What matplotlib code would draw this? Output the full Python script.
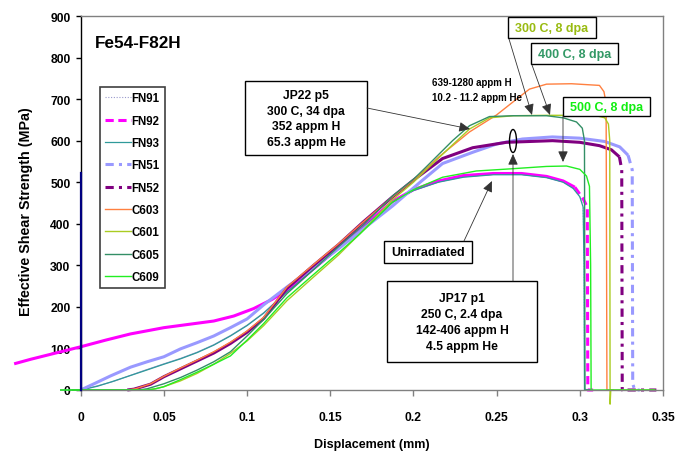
import numpy as np
import matplotlib
matplotlib.use('Agg')
import matplotlib.pyplot as plt
from matplotlib.patches import Rectangle, Ellipse, FancyArrowPatch

plt.rcParams['font.family'] = ['Liberation Sans', 'DejaVu Sans']
plt.rcParams['font.weight'] = 'bold'

# ---- data (displacement in mm, effective shear strength in MPa) ----
fn91_x = [0.000, 0.010, 0.020, 0.036, 0.050, 0.060, 0.070, 0.080, 0.090, 0.100, 0.110, 0.124,
          0.140, 0.155, 0.170, 0.1875, 0.200, 0.215, 0.230, 0.248, 0.265, 0.280, 0.290, 0.296,
          0.300, 0.302, 0.3026, 0.3029, 0.306]
fn91_y = [0, 10, 21, 44, 63, 76, 91, 109, 131, 156, 186, 237,
          291, 341, 393, 453, 481, 501, 513, 519, 519, 512, 501, 486,
          466, 440, 300, 0, 0]

fn92_x = [-0.040, -0.030, -0.020, -0.010, 0.000, 0.015, 0.030, 0.050, 0.065, 0.080, 0.092, 0.104,
          0.115, 0.124, 0.140, 0.155, 0.170, 0.1875, 0.200, 0.215, 0.230, 0.248, 0.265, 0.280,
          0.290, 0.297, 0.302, 0.3045, 0.3048, 0.308]
fn92_y = [63, 74, 84, 94, 104, 120, 135, 150, 158, 166, 178, 196,
          218, 240, 292, 342, 394, 454, 482, 503, 516, 521, 521, 514,
          503, 488, 460, 440, 0, 0]

fn93_x = [-0.005, 0.000, 0.010, 0.018, 0.027, 0.036, 0.050, 0.060, 0.070, 0.080, 0.090, 0.100,
          0.110, 0.124, 0.140, 0.155, 0.170, 0.1875, 0.200, 0.215, 0.230, 0.248, 0.265, 0.280,
          0.290, 0.296, 0.300, 0.302, 0.3025, 0.3028, 0.306]
fn93_y = [0, 0, 9, 19, 31, 43, 62, 75, 90, 108, 130, 155,
          185, 236, 290, 340, 392, 452, 480, 500, 512, 518, 518, 511,
          500, 485, 465, 440, 300, 0, 0]

fn51_x = [0.000, 0.008, 0.018, 0.030, 0.040, 0.050, 0.060, 0.070, 0.080, 0.090, 0.100, 0.110,
          0.124, 0.140, 0.155, 0.170, 0.1875, 0.204, 0.2175, 0.2356, 0.250, 0.2655, 0.2835, 0.300,
          0.315, 0.324, 0.329, 0.3315, 0.3318, 0.333, 0.336]
fn51_y = [0, 15, 34, 55, 68, 80, 99, 114, 130, 150, 171, 205,
          248, 295, 340, 388, 443, 500, 545, 572, 592, 604, 609, 606,
          598, 585, 565, 530, 15, 0, 0]

fn52_x = [0.028, 0.032, 0.042, 0.050, 0.060, 0.070, 0.080, 0.090, 0.100, 0.110, 0.124, 0.140,
          0.155, 0.170, 0.1875, 0.200, 0.2175, 0.2356, 0.2558, 0.2836, 0.300, 0.3118, 0.319, 0.3238,
          0.3252, 0.3255, 0.330, 0.346]
fn52_y = [0, 2, 14, 32, 51, 70, 89, 112, 139, 172, 245, 300,
          350, 405, 465, 505, 557, 583, 596, 600, 596, 588, 578, 561,
          530, 0, 0, 0]

c603_x = [0.028, 0.033, 0.042, 0.050, 0.060, 0.070, 0.080, 0.090, 0.100, 0.110, 0.124, 0.140,
          0.155, 0.170, 0.1875, 0.200, 0.215, 0.2337, 0.250, 0.262, 0.2697, 0.280, 0.295, 0.3118,
          0.3145, 0.3158, 0.3163, 0.320]
c603_y = [0, 3, 15, 33, 53, 72, 92, 115, 142, 175, 248, 302,
          352, 405, 465, 505, 560, 621, 662, 700, 724, 736, 737, 733,
          718, 690, 0, 0]

c601_x = [-0.005, 0.040, 0.045, 0.050, 0.060, 0.070, 0.080, 0.090, 0.100, 0.110, 0.124, 0.140,
          0.155, 0.170, 0.1875, 0.200, 0.2077, 0.2235, 0.2337, 0.2457, 0.260, 0.280, 0.300, 0.310,
          0.315, 0.3172, 0.318, 0.3182, 0.3186, 0.325, 0.345]
c601_y = [0, 0, 3, 8, 22, 40, 62, 88, 118, 155, 215, 272,
          325, 385, 458, 500, 530, 590, 628, 655, 660, 661, 661, 660,
          655, 640, 600, -34, 0, 0, 0]

c605_x = [-0.012, 0.035, 0.040, 0.050, 0.060, 0.070, 0.080, 0.090, 0.100, 0.110, 0.124, 0.140,
          0.155, 0.170, 0.1875, 0.200, 0.2077, 0.2235, 0.2337, 0.2457, 0.260, 0.280, 0.290, 0.298,
          0.3015, 0.3028, 0.3031, 0.306]
c605_y = [0, 0, 3, 15, 30, 48, 68, 92, 130, 170, 232, 290,
          345, 398, 467, 507, 537, 600, 636, 658, 660, 660, 655, 645,
          630, 600, 0, 0]

c609_x = [-0.012, 0.040, 0.045, 0.050, 0.060, 0.070, 0.080, 0.090, 0.100, 0.110, 0.124, 0.140,
          0.155, 0.1677, 0.1875, 0.200, 0.2175, 0.2377, 0.2577, 0.280, 0.292, 0.300, 0.304, 0.3058,
          0.3065, 0.3068, 0.310, 0.345]
c609_y = [0, 0, 3, 8, 25, 43, 62, 82, 120, 160, 222, 278,
          330, 375, 452, 482, 512, 527, 532, 538, 539, 531, 515, 490,
          300, 0, 0, 0]

spike_x = [0.0, 0.0]
spike_y = [0, 523]

X_TICKS = [0, 0.05, 0.1, 0.15, 0.2, 0.25, 0.3, 0.35]
Y_TICKS = [0, 100, 200, 300, 400, 500, 600, 700, 800, 900]

# (label, x, y, color, linewidth, dashes for the drop / legend, None = solid)
SERIES = [
    ('FN91', fn91_x, fn91_y, '#9999cc', 0.8, (1, 1.5)),
    ('FN92', fn92_x, fn92_y, '#ff00ff', 2.2, (2.7, 1.5)),
    ('FN93', fn93_x, fn93_y, '#2f9a9a', 0.9, None),
    ('FN51', fn51_x, fn51_y, '#9999ff', 2.2, (2.7, 1.7, 1, 1.7)),
    ('FN52', fn52_x, fn52_y, '#800080', 2.2, (2.7, 1.7, 1, 1.7)),
    ('C603', c603_x, c603_y, '#ff8040', 1.0, None),
    ('C601', c601_x, c601_y, '#aacc22', 1.0, None),
    ('C605', c605_x, c605_y, '#338f66', 1.0, None),
    ('C609', c609_x, c609_y, '#22ee22', 1.0, None),
]

W, H = 683, 452


def fp(x, y):
    """pixel position (from top-left) -> figure fraction"""
    return (x / W, 1 - y / H)


fig = plt.figure(figsize=(W / 100, H / 100), dpi=100, facecolor='white')
ax = fig.add_axes([80.7 / W, 1 - 391 / H, (663 - 80.7) / W, (391 - 17) / H])

ax.plot(spike_x, spike_y, color='#000080', lw=1.6, clip_on=False, zorder=3)

for label, x, y, color, lw, dashes in SERIES:
    x = np.asarray(x, dtype=float)
    y = np.asarray(y, dtype=float)
    if dashes is None:
        ax.plot(x, y, color=color, lw=lw, label=label, clip_on=False)
        continue
    # Excel restarts the dash on every short segment, so only the long
    # drop after failure really shows the dash pattern
    k = int(np.argmax(y))
    k += int(np.argmax(y[k:] < 0.9 * y.max()))
    ax.plot(x[:k], y[:k], color=color, lw=lw, clip_on=False, solid_capstyle='butt')
    ax.plot(x[k - 1:], y[k - 1:], color=color, lw=lw, dashes=dashes, label=label,
            clip_on=False)

ax.set_xlim(0, 0.35)
ax.set_ylim(0, 900)
ax.set_xticks(X_TICKS)
ax.set_xticklabels([f'{v:g}' for v in X_TICKS])
ax.set_yticks(Y_TICKS)
ax.tick_params(axis='x', direction='out', length=4, width=1, color='#808080',
               pad=11, labelsize=8.7)
ax.tick_params(axis='y', direction='out', length=3.4, width=1, color='black',
               pad=4, labelsize=8.7)
for s in ['top', 'right', 'bottom']:
    ax.spines[s].set_color('#808080')
    ax.spines[s].set_linewidth(1)
ax.spines['left'].set_color('black')
ax.spines['left'].set_linewidth(1)

ax.set_xlabel('Displacement (mm)', fontsize=9, fontweight='bold')
ax.xaxis.set_label_coords(0.5, -0.128)
ax.set_ylabel('Effective Shear Strength (MPa)', fontsize=10.3, fontweight='bold')
ax.yaxis.set_label_coords(-0.082, 0.48)

leg = ax.legend(loc='upper left', bbox_to_anchor=fp(100, 88), bbox_transform=fig.transFigure,
                borderaxespad=0, fontsize=8.3, handlelength=2.2, handletextpad=0.1,
                labelspacing=0.9, borderpad=0.45, fancybox=False, framealpha=1,
                edgecolor='#404040')
leg.get_frame().set_linewidth(1.2)

fig.text(*fp(95, 48.5), 'Fe54-F82H', fontsize=12.3, fontweight='bold', ha='left', va='baseline')

# ---- annotation boxes ----
boxes = [
    ((245, 82, 367, 156), 'JP22 p5\n300 C, 34 dpa\n352 appm H\n65.3 appm He', 'black', 8.7),
    ((508, 18, 596, 39), '300 C, 8 dpa', '#99bb11', 9),
    ((531, 44, 618, 65), '400 C, 8 dpa', '#339966', 9),
    ((563, 98, 650, 117), '500 C, 8 dpa', '#11ee11', 9),
    ((384, 242, 472, 264), 'Unirradiated', 'black', 9),
    ((387, 282, 537, 363), 'JP17 p1\n250 C, 2.4 dpa\n142-406 appm H\n4.5 appm He', 'black', 8.7),
]
for (x0, y0, x1, y1), txt, col, fs in boxes:
    fig.add_artist(Rectangle(fp(x0, y1), (x1 - x0) / W, (y1 - y0) / H,
                             transform=fig.transFigure, facecolor='white',
                             edgecolor='black', lw=1, zorder=5))
    fig.text(*fp((x0 + x1) / 2, (y0 + y1) / 2 + 0.5), txt, color=col, fontsize=fs,
             fontweight='bold', ha='center', va='center', linespacing=1.42, zorder=6)

fig.text(*fp(432, 86), '639-1280 appm H', fontsize=7, fontweight='bold', ha='left', va='baseline')
fig.text(*fp(432, 101), '10.2 - 11.2 appm He', fontsize=7, fontweight='bold', ha='left',
         va='baseline')

arrows = [
    ((367, 109), (470, 130)),
    ((509, 40), (532, 116)),
    ((532, 66), (550, 116)),
    ((563, 117), (563, 163)),
    ((464, 242), (492, 182)),
    ((513, 282), (513, 155)),
]
for a, b in arrows:
    fig.add_artist(FancyArrowPatch(fp(*a), fp(*b), transform=fig.transFigure,
                                   arrowstyle='-|>,head_length=0.55,head_width=0.25',
                                   mutation_scale=12, color='#333333', lw=0.6,
                                   shrinkA=0, shrinkB=0, zorder=7))

fig.add_artist(Ellipse(fp(513, 142), 7 / W, 23 / H, transform=fig.transFigure,
                       facecolor='none', edgecolor='black', lw=1, zorder=7))

fig.savefig('out.png', dpi=100, facecolor='white')
